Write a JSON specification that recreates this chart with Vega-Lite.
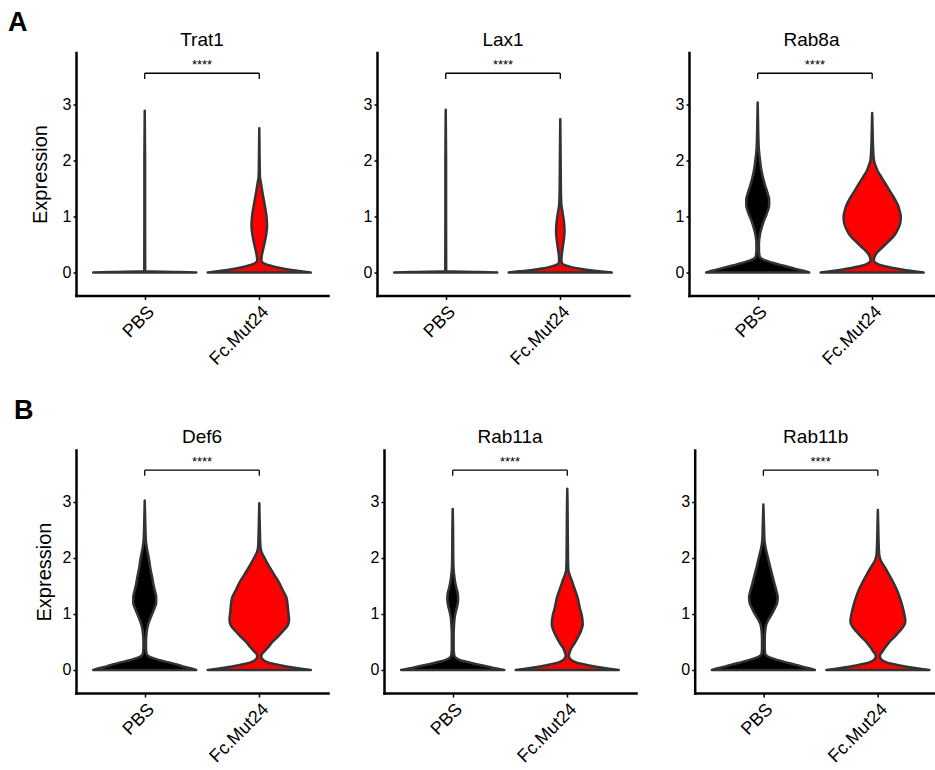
{
  "$schema": "https://vega.github.io/schema/vega-lite/v6.json",
  "padding": {"left": 8, "top": 8.5, "right": 0, "bottom": 0},
  "background": "white",
  "datasets": {
    "violins": [
      {"gene":"Trat1","group":"PBS","expr":0,"dens":0.45},
      {"gene":"Trat1","group":"PBS","expr":0.01,"dens":0.3},
      {"gene":"Trat1","group":"PBS","expr":0.02,"dens":0.01},
      {"gene":"Trat1","group":"PBS","expr":0.04,"dens":0.004},
      {"gene":"Trat1","group":"PBS","expr":1.0,"dens":0.003},
      {"gene":"Trat1","group":"PBS","expr":2.0,"dens":0.003},
      {"gene":"Trat1","group":"PBS","expr":2.88,"dens":0},
      {"gene":"Trat1","group":"Fc.Mut24","expr":0,"dens":0.45},
      {"gene":"Trat1","group":"Fc.Mut24","expr":0.02,"dens":0.38},
      {"gene":"Trat1","group":"Fc.Mut24","expr":0.04,"dens":0.30},
      {"gene":"Trat1","group":"Fc.Mut24","expr":0.06,"dens":0.24},
      {"gene":"Trat1","group":"Fc.Mut24","expr":0.09,"dens":0.16},
      {"gene":"Trat1","group":"Fc.Mut24","expr":0.12,"dens":0.10},
      {"gene":"Trat1","group":"Fc.Mut24","expr":0.15,"dens":0.055},
      {"gene":"Trat1","group":"Fc.Mut24","expr":0.18,"dens":0.028},
      {"gene":"Trat1","group":"Fc.Mut24","expr":0.22,"dens":0.018},
      {"gene":"Trat1","group":"Fc.Mut24","expr":0.3,"dens":0.022},
      {"gene":"Trat1","group":"Fc.Mut24","expr":0.45,"dens":0.038},
      {"gene":"Trat1","group":"Fc.Mut24","expr":0.65,"dens":0.058},
      {"gene":"Trat1","group":"Fc.Mut24","expr":0.83,"dens":0.068},
      {"gene":"Trat1","group":"Fc.Mut24","expr":1.0,"dens":0.063},
      {"gene":"Trat1","group":"Fc.Mut24","expr":1.2,"dens":0.048},
      {"gene":"Trat1","group":"Fc.Mut24","expr":1.4,"dens":0.03},
      {"gene":"Trat1","group":"Fc.Mut24","expr":1.6,"dens":0.014},
      {"gene":"Trat1","group":"Fc.Mut24","expr":1.7,"dens":0.006},
      {"gene":"Trat1","group":"Fc.Mut24","expr":2.0,"dens":0.003},
      {"gene":"Trat1","group":"Fc.Mut24","expr":2.57,"dens":0},

      {"gene":"Lax1","group":"PBS","expr":0,"dens":0.45},
      {"gene":"Lax1","group":"PBS","expr":0.01,"dens":0.3},
      {"gene":"Lax1","group":"PBS","expr":0.02,"dens":0.01},
      {"gene":"Lax1","group":"PBS","expr":0.04,"dens":0.004},
      {"gene":"Lax1","group":"PBS","expr":1.0,"dens":0.003},
      {"gene":"Lax1","group":"PBS","expr":2.0,"dens":0.003},
      {"gene":"Lax1","group":"PBS","expr":2.9,"dens":0},
      {"gene":"Lax1","group":"Fc.Mut24","expr":0,"dens":0.45},
      {"gene":"Lax1","group":"Fc.Mut24","expr":0.02,"dens":0.36},
      {"gene":"Lax1","group":"Fc.Mut24","expr":0.04,"dens":0.26},
      {"gene":"Lax1","group":"Fc.Mut24","expr":0.07,"dens":0.16},
      {"gene":"Lax1","group":"Fc.Mut24","expr":0.1,"dens":0.09},
      {"gene":"Lax1","group":"Fc.Mut24","expr":0.13,"dens":0.04},
      {"gene":"Lax1","group":"Fc.Mut24","expr":0.16,"dens":0.015},
      {"gene":"Lax1","group":"Fc.Mut24","expr":0.22,"dens":0.01},
      {"gene":"Lax1","group":"Fc.Mut24","expr":0.3,"dens":0.012},
      {"gene":"Lax1","group":"Fc.Mut24","expr":0.45,"dens":0.022},
      {"gene":"Lax1","group":"Fc.Mut24","expr":0.6,"dens":0.032},
      {"gene":"Lax1","group":"Fc.Mut24","expr":0.74,"dens":0.037},
      {"gene":"Lax1","group":"Fc.Mut24","expr":0.9,"dens":0.032},
      {"gene":"Lax1","group":"Fc.Mut24","expr":1.05,"dens":0.022},
      {"gene":"Lax1","group":"Fc.Mut24","expr":1.2,"dens":0.01},
      {"gene":"Lax1","group":"Fc.Mut24","expr":1.4,"dens":0.006},
      {"gene":"Lax1","group":"Fc.Mut24","expr":1.8,"dens":0.004},
      {"gene":"Lax1","group":"Fc.Mut24","expr":2.3,"dens":0.002},
      {"gene":"Lax1","group":"Fc.Mut24","expr":2.73,"dens":0},

      {"gene":"Rab8a","group":"PBS","expr":0,"dens":0.45},
      {"gene":"Rab8a","group":"PBS","expr":0.03,"dens":0.40},
      {"gene":"Rab8a","group":"PBS","expr":0.06,"dens":0.34},
      {"gene":"Rab8a","group":"PBS","expr":0.1,"dens":0.27},
      {"gene":"Rab8a","group":"PBS","expr":0.14,"dens":0.19},
      {"gene":"Rab8a","group":"PBS","expr":0.18,"dens":0.12},
      {"gene":"Rab8a","group":"PBS","expr":0.22,"dens":0.06},
      {"gene":"Rab8a","group":"PBS","expr":0.26,"dens":0.025},
      {"gene":"Rab8a","group":"PBS","expr":0.3,"dens":0.015},
      {"gene":"Rab8a","group":"PBS","expr":0.4,"dens":0.011},
      {"gene":"Rab8a","group":"PBS","expr":0.5,"dens":0.011},
      {"gene":"Rab8a","group":"PBS","expr":0.6,"dens":0.014},
      {"gene":"Rab8a","group":"PBS","expr":0.7,"dens":0.022},
      {"gene":"Rab8a","group":"PBS","expr":0.8,"dens":0.035},
      {"gene":"Rab8a","group":"PBS","expr":0.9,"dens":0.05},
      {"gene":"Rab8a","group":"PBS","expr":1.0,"dens":0.07},
      {"gene":"Rab8a","group":"PBS","expr":1.1,"dens":0.088},
      {"gene":"Rab8a","group":"PBS","expr":1.2,"dens":0.10},
      {"gene":"Rab8a","group":"PBS","expr":1.3,"dens":0.10},
      {"gene":"Rab8a","group":"PBS","expr":1.4,"dens":0.088},
      {"gene":"Rab8a","group":"PBS","expr":1.55,"dens":0.065},
      {"gene":"Rab8a","group":"PBS","expr":1.7,"dens":0.045},
      {"gene":"Rab8a","group":"PBS","expr":1.85,"dens":0.03},
      {"gene":"Rab8a","group":"PBS","expr":2.0,"dens":0.02},
      {"gene":"Rab8a","group":"PBS","expr":2.2,"dens":0.01},
      {"gene":"Rab8a","group":"PBS","expr":2.4,"dens":0.006},
      {"gene":"Rab8a","group":"PBS","expr":2.7,"dens":0.003},
      {"gene":"Rab8a","group":"PBS","expr":3.03,"dens":0},
      {"gene":"Rab8a","group":"Fc.Mut24","expr":0,"dens":0.45},
      {"gene":"Rab8a","group":"Fc.Mut24","expr":0.02,"dens":0.38},
      {"gene":"Rab8a","group":"Fc.Mut24","expr":0.05,"dens":0.27},
      {"gene":"Rab8a","group":"Fc.Mut24","expr":0.08,"dens":0.18},
      {"gene":"Rab8a","group":"Fc.Mut24","expr":0.11,"dens":0.11},
      {"gene":"Rab8a","group":"Fc.Mut24","expr":0.14,"dens":0.06},
      {"gene":"Rab8a","group":"Fc.Mut24","expr":0.18,"dens":0.025},
      {"gene":"Rab8a","group":"Fc.Mut24","expr":0.22,"dens":0.015},
      {"gene":"Rab8a","group":"Fc.Mut24","expr":0.26,"dens":0.017},
      {"gene":"Rab8a","group":"Fc.Mut24","expr":0.3,"dens":0.025},
      {"gene":"Rab8a","group":"Fc.Mut24","expr":0.36,"dens":0.045},
      {"gene":"Rab8a","group":"Fc.Mut24","expr":0.45,"dens":0.09},
      {"gene":"Rab8a","group":"Fc.Mut24","expr":0.53,"dens":0.13},
      {"gene":"Rab8a","group":"Fc.Mut24","expr":0.65,"dens":0.19},
      {"gene":"Rab8a","group":"Fc.Mut24","expr":0.77,"dens":0.225},
      {"gene":"Rab8a","group":"Fc.Mut24","expr":0.88,"dens":0.245},
      {"gene":"Rab8a","group":"Fc.Mut24","expr":0.99,"dens":0.25},
      {"gene":"Rab8a","group":"Fc.Mut24","expr":1.1,"dens":0.24},
      {"gene":"Rab8a","group":"Fc.Mut24","expr":1.2,"dens":0.225},
      {"gene":"Rab8a","group":"Fc.Mut24","expr":1.3,"dens":0.2},
      {"gene":"Rab8a","group":"Fc.Mut24","expr":1.4,"dens":0.17},
      {"gene":"Rab8a","group":"Fc.Mut24","expr":1.5,"dens":0.14},
      {"gene":"Rab8a","group":"Fc.Mut24","expr":1.6,"dens":0.11},
      {"gene":"Rab8a","group":"Fc.Mut24","expr":1.7,"dens":0.08},
      {"gene":"Rab8a","group":"Fc.Mut24","expr":1.8,"dens":0.05},
      {"gene":"Rab8a","group":"Fc.Mut24","expr":1.9,"dens":0.03},
      {"gene":"Rab8a","group":"Fc.Mut24","expr":2.0,"dens":0.015},
      {"gene":"Rab8a","group":"Fc.Mut24","expr":2.2,"dens":0.008},
      {"gene":"Rab8a","group":"Fc.Mut24","expr":2.5,"dens":0.004},
      {"gene":"Rab8a","group":"Fc.Mut24","expr":2.84,"dens":0},

      {"gene":"Def6","group":"PBS","expr":0,"dens":0.45},
      {"gene":"Def6","group":"PBS","expr":0.03,"dens":0.40},
      {"gene":"Def6","group":"PBS","expr":0.06,"dens":0.34},
      {"gene":"Def6","group":"PBS","expr":0.1,"dens":0.28},
      {"gene":"Def6","group":"PBS","expr":0.14,"dens":0.2},
      {"gene":"Def6","group":"PBS","expr":0.18,"dens":0.12},
      {"gene":"Def6","group":"PBS","expr":0.22,"dens":0.06},
      {"gene":"Def6","group":"PBS","expr":0.26,"dens":0.025},
      {"gene":"Def6","group":"PBS","expr":0.3,"dens":0.015},
      {"gene":"Def6","group":"PBS","expr":0.4,"dens":0.011},
      {"gene":"Def6","group":"PBS","expr":0.5,"dens":0.011},
      {"gene":"Def6","group":"PBS","expr":0.6,"dens":0.013},
      {"gene":"Def6","group":"PBS","expr":0.7,"dens":0.018},
      {"gene":"Def6","group":"PBS","expr":0.8,"dens":0.028},
      {"gene":"Def6","group":"PBS","expr":0.9,"dens":0.045},
      {"gene":"Def6","group":"PBS","expr":1.0,"dens":0.065},
      {"gene":"Def6","group":"PBS","expr":1.1,"dens":0.085},
      {"gene":"Def6","group":"PBS","expr":1.2,"dens":0.1},
      {"gene":"Def6","group":"PBS","expr":1.3,"dens":0.1},
      {"gene":"Def6","group":"PBS","expr":1.4,"dens":0.09},
      {"gene":"Def6","group":"PBS","expr":1.5,"dens":0.078},
      {"gene":"Def6","group":"PBS","expr":1.65,"dens":0.065},
      {"gene":"Def6","group":"PBS","expr":1.8,"dens":0.05},
      {"gene":"Def6","group":"PBS","expr":2.0,"dens":0.035},
      {"gene":"Def6","group":"PBS","expr":2.15,"dens":0.02},
      {"gene":"Def6","group":"PBS","expr":2.3,"dens":0.01},
      {"gene":"Def6","group":"PBS","expr":2.5,"dens":0.006},
      {"gene":"Def6","group":"PBS","expr":2.75,"dens":0.003},
      {"gene":"Def6","group":"PBS","expr":3.02,"dens":0},
      {"gene":"Def6","group":"Fc.Mut24","expr":0,"dens":0.45},
      {"gene":"Def6","group":"Fc.Mut24","expr":0.02,"dens":0.38},
      {"gene":"Def6","group":"Fc.Mut24","expr":0.05,"dens":0.28},
      {"gene":"Def6","group":"Fc.Mut24","expr":0.08,"dens":0.19},
      {"gene":"Def6","group":"Fc.Mut24","expr":0.11,"dens":0.12},
      {"gene":"Def6","group":"Fc.Mut24","expr":0.15,"dens":0.06},
      {"gene":"Def6","group":"Fc.Mut24","expr":0.19,"dens":0.03},
      {"gene":"Def6","group":"Fc.Mut24","expr":0.23,"dens":0.018},
      {"gene":"Def6","group":"Fc.Mut24","expr":0.27,"dens":0.02},
      {"gene":"Def6","group":"Fc.Mut24","expr":0.32,"dens":0.04},
      {"gene":"Def6","group":"Fc.Mut24","expr":0.4,"dens":0.075},
      {"gene":"Def6","group":"Fc.Mut24","expr":0.5,"dens":0.115},
      {"gene":"Def6","group":"Fc.Mut24","expr":0.6,"dens":0.165},
      {"gene":"Def6","group":"Fc.Mut24","expr":0.7,"dens":0.21},
      {"gene":"Def6","group":"Fc.Mut24","expr":0.8,"dens":0.25},
      {"gene":"Def6","group":"Fc.Mut24","expr":0.9,"dens":0.26},
      {"gene":"Def6","group":"Fc.Mut24","expr":1.0,"dens":0.255},
      {"gene":"Def6","group":"Fc.Mut24","expr":1.1,"dens":0.25},
      {"gene":"Def6","group":"Fc.Mut24","expr":1.2,"dens":0.245},
      {"gene":"Def6","group":"Fc.Mut24","expr":1.3,"dens":0.235},
      {"gene":"Def6","group":"Fc.Mut24","expr":1.4,"dens":0.21},
      {"gene":"Def6","group":"Fc.Mut24","expr":1.55,"dens":0.175},
      {"gene":"Def6","group":"Fc.Mut24","expr":1.7,"dens":0.13},
      {"gene":"Def6","group":"Fc.Mut24","expr":1.85,"dens":0.085},
      {"gene":"Def6","group":"Fc.Mut24","expr":2.0,"dens":0.045},
      {"gene":"Def6","group":"Fc.Mut24","expr":2.1,"dens":0.02},
      {"gene":"Def6","group":"Fc.Mut24","expr":2.2,"dens":0.01},
      {"gene":"Def6","group":"Fc.Mut24","expr":2.5,"dens":0.005},
      {"gene":"Def6","group":"Fc.Mut24","expr":2.97,"dens":0},

      {"gene":"Rab11a","group":"PBS","expr":0,"dens":0.45},
      {"gene":"Rab11a","group":"PBS","expr":0.03,"dens":0.37},
      {"gene":"Rab11a","group":"PBS","expr":0.06,"dens":0.31},
      {"gene":"Rab11a","group":"PBS","expr":0.09,"dens":0.24},
      {"gene":"Rab11a","group":"PBS","expr":0.12,"dens":0.17},
      {"gene":"Rab11a","group":"PBS","expr":0.15,"dens":0.11},
      {"gene":"Rab11a","group":"PBS","expr":0.18,"dens":0.06},
      {"gene":"Rab11a","group":"PBS","expr":0.22,"dens":0.025},
      {"gene":"Rab11a","group":"PBS","expr":0.27,"dens":0.012},
      {"gene":"Rab11a","group":"PBS","expr":0.4,"dens":0.008},
      {"gene":"Rab11a","group":"PBS","expr":0.6,"dens":0.008},
      {"gene":"Rab11a","group":"PBS","expr":0.8,"dens":0.011},
      {"gene":"Rab11a","group":"PBS","expr":0.95,"dens":0.018},
      {"gene":"Rab11a","group":"PBS","expr":1.05,"dens":0.028},
      {"gene":"Rab11a","group":"PBS","expr":1.15,"dens":0.04},
      {"gene":"Rab11a","group":"PBS","expr":1.25,"dens":0.047},
      {"gene":"Rab11a","group":"PBS","expr":1.35,"dens":0.045},
      {"gene":"Rab11a","group":"PBS","expr":1.45,"dens":0.033},
      {"gene":"Rab11a","group":"PBS","expr":1.55,"dens":0.022},
      {"gene":"Rab11a","group":"PBS","expr":1.7,"dens":0.012},
      {"gene":"Rab11a","group":"PBS","expr":1.85,"dens":0.006},
      {"gene":"Rab11a","group":"PBS","expr":2.2,"dens":0.004},
      {"gene":"Rab11a","group":"PBS","expr":2.5,"dens":0.003},
      {"gene":"Rab11a","group":"PBS","expr":2.87,"dens":0},
      {"gene":"Rab11a","group":"Fc.Mut24","expr":0,"dens":0.45},
      {"gene":"Rab11a","group":"Fc.Mut24","expr":0.02,"dens":0.38},
      {"gene":"Rab11a","group":"Fc.Mut24","expr":0.05,"dens":0.28},
      {"gene":"Rab11a","group":"Fc.Mut24","expr":0.08,"dens":0.19},
      {"gene":"Rab11a","group":"Fc.Mut24","expr":0.11,"dens":0.12},
      {"gene":"Rab11a","group":"Fc.Mut24","expr":0.15,"dens":0.06},
      {"gene":"Rab11a","group":"Fc.Mut24","expr":0.19,"dens":0.03},
      {"gene":"Rab11a","group":"Fc.Mut24","expr":0.23,"dens":0.016},
      {"gene":"Rab11a","group":"Fc.Mut24","expr":0.27,"dens":0.015},
      {"gene":"Rab11a","group":"Fc.Mut24","expr":0.32,"dens":0.022},
      {"gene":"Rab11a","group":"Fc.Mut24","expr":0.39,"dens":0.035},
      {"gene":"Rab11a","group":"Fc.Mut24","expr":0.48,"dens":0.065},
      {"gene":"Rab11a","group":"Fc.Mut24","expr":0.57,"dens":0.09},
      {"gene":"Rab11a","group":"Fc.Mut24","expr":0.7,"dens":0.12},
      {"gene":"Rab11a","group":"Fc.Mut24","expr":0.81,"dens":0.135},
      {"gene":"Rab11a","group":"Fc.Mut24","expr":0.9,"dens":0.132},
      {"gene":"Rab11a","group":"Fc.Mut24","expr":0.99,"dens":0.125},
      {"gene":"Rab11a","group":"Fc.Mut24","expr":1.1,"dens":0.11},
      {"gene":"Rab11a","group":"Fc.Mut24","expr":1.2,"dens":0.1},
      {"gene":"Rab11a","group":"Fc.Mut24","expr":1.29,"dens":0.09},
      {"gene":"Rab11a","group":"Fc.Mut24","expr":1.4,"dens":0.072},
      {"gene":"Rab11a","group":"Fc.Mut24","expr":1.5,"dens":0.055},
      {"gene":"Rab11a","group":"Fc.Mut24","expr":1.59,"dens":0.04},
      {"gene":"Rab11a","group":"Fc.Mut24","expr":1.7,"dens":0.02},
      {"gene":"Rab11a","group":"Fc.Mut24","expr":1.77,"dens":0.01},
      {"gene":"Rab11a","group":"Fc.Mut24","expr":2.0,"dens":0.006},
      {"gene":"Rab11a","group":"Fc.Mut24","expr":2.5,"dens":0.004},
      {"gene":"Rab11a","group":"Fc.Mut24","expr":3.0,"dens":0.002},
      {"gene":"Rab11a","group":"Fc.Mut24","expr":3.23,"dens":0},

      {"gene":"Rab11b","group":"PBS","expr":0,"dens":0.45},
      {"gene":"Rab11b","group":"PBS","expr":0.03,"dens":0.40},
      {"gene":"Rab11b","group":"PBS","expr":0.06,"dens":0.34},
      {"gene":"Rab11b","group":"PBS","expr":0.1,"dens":0.27},
      {"gene":"Rab11b","group":"PBS","expr":0.14,"dens":0.19},
      {"gene":"Rab11b","group":"PBS","expr":0.18,"dens":0.12},
      {"gene":"Rab11b","group":"PBS","expr":0.22,"dens":0.06},
      {"gene":"Rab11b","group":"PBS","expr":0.26,"dens":0.025},
      {"gene":"Rab11b","group":"PBS","expr":0.3,"dens":0.015},
      {"gene":"Rab11b","group":"PBS","expr":0.4,"dens":0.012},
      {"gene":"Rab11b","group":"PBS","expr":0.55,"dens":0.012},
      {"gene":"Rab11b","group":"PBS","expr":0.7,"dens":0.016},
      {"gene":"Rab11b","group":"PBS","expr":0.81,"dens":0.025},
      {"gene":"Rab11b","group":"PBS","expr":0.9,"dens":0.045},
      {"gene":"Rab11b","group":"PBS","expr":1.0,"dens":0.075},
      {"gene":"Rab11b","group":"PBS","expr":1.1,"dens":0.1},
      {"gene":"Rab11b","group":"PBS","expr":1.2,"dens":0.12},
      {"gene":"Rab11b","group":"PBS","expr":1.3,"dens":0.125},
      {"gene":"Rab11b","group":"PBS","expr":1.4,"dens":0.115},
      {"gene":"Rab11b","group":"PBS","expr":1.55,"dens":0.095},
      {"gene":"Rab11b","group":"PBS","expr":1.71,"dens":0.075},
      {"gene":"Rab11b","group":"PBS","expr":1.85,"dens":0.057},
      {"gene":"Rab11b","group":"PBS","expr":2.0,"dens":0.04},
      {"gene":"Rab11b","group":"PBS","expr":2.15,"dens":0.022},
      {"gene":"Rab11b","group":"PBS","expr":2.3,"dens":0.01},
      {"gene":"Rab11b","group":"PBS","expr":2.6,"dens":0.005},
      {"gene":"Rab11b","group":"PBS","expr":2.95,"dens":0},
      {"gene":"Rab11b","group":"Fc.Mut24","expr":0,"dens":0.45},
      {"gene":"Rab11b","group":"Fc.Mut24","expr":0.02,"dens":0.38},
      {"gene":"Rab11b","group":"Fc.Mut24","expr":0.05,"dens":0.28},
      {"gene":"Rab11b","group":"Fc.Mut24","expr":0.08,"dens":0.19},
      {"gene":"Rab11b","group":"Fc.Mut24","expr":0.11,"dens":0.12},
      {"gene":"Rab11b","group":"Fc.Mut24","expr":0.15,"dens":0.06},
      {"gene":"Rab11b","group":"Fc.Mut24","expr":0.19,"dens":0.03},
      {"gene":"Rab11b","group":"Fc.Mut24","expr":0.23,"dens":0.018},
      {"gene":"Rab11b","group":"Fc.Mut24","expr":0.27,"dens":0.02},
      {"gene":"Rab11b","group":"Fc.Mut24","expr":0.33,"dens":0.04},
      {"gene":"Rab11b","group":"Fc.Mut24","expr":0.42,"dens":0.07},
      {"gene":"Rab11b","group":"Fc.Mut24","expr":0.51,"dens":0.105},
      {"gene":"Rab11b","group":"Fc.Mut24","expr":0.6,"dens":0.15},
      {"gene":"Rab11b","group":"Fc.Mut24","expr":0.69,"dens":0.19},
      {"gene":"Rab11b","group":"Fc.Mut24","expr":0.78,"dens":0.225},
      {"gene":"Rab11b","group":"Fc.Mut24","expr":0.87,"dens":0.24},
      {"gene":"Rab11b","group":"Fc.Mut24","expr":0.95,"dens":0.235},
      {"gene":"Rab11b","group":"Fc.Mut24","expr":1.05,"dens":0.225},
      {"gene":"Rab11b","group":"Fc.Mut24","expr":1.17,"dens":0.21},
      {"gene":"Rab11b","group":"Fc.Mut24","expr":1.3,"dens":0.19},
      {"gene":"Rab11b","group":"Fc.Mut24","expr":1.41,"dens":0.17},
      {"gene":"Rab11b","group":"Fc.Mut24","expr":1.56,"dens":0.135},
      {"gene":"Rab11b","group":"Fc.Mut24","expr":1.71,"dens":0.095},
      {"gene":"Rab11b","group":"Fc.Mut24","expr":1.85,"dens":0.055},
      {"gene":"Rab11b","group":"Fc.Mut24","expr":1.95,"dens":0.025},
      {"gene":"Rab11b","group":"Fc.Mut24","expr":2.05,"dens":0.012},
      {"gene":"Rab11b","group":"Fc.Mut24","expr":2.3,"dens":0.006},
      {"gene":"Rab11b","group":"Fc.Mut24","expr":2.6,"dens":0.003},
      {"gene":"Rab11b","group":"Fc.Mut24","expr":2.85,"dens":0}
    ],
    "tests": [
      {"gene":"Trat1","group1":"PBS","group2":"Fc.Mut24","y":3.55,"label":"****"},
      {"gene":"Lax1","group1":"PBS","group2":"Fc.Mut24","y":3.55,"label":"****"},
      {"gene":"Rab8a","group1":"PBS","group2":"Fc.Mut24","y":3.55,"label":"****"},
      {"gene":"Def6","group1":"PBS","group2":"Fc.Mut24","y":3.56,"label":"****"},
      {"gene":"Rab11a","group1":"PBS","group2":"Fc.Mut24","y":3.56,"label":"****"},
      {"gene":"Rab11b","group1":"PBS","group2":"Fc.Mut24","y":3.56,"label":"****"}
    ]
  },
  "concat": [
    {
      "title": {"text": "A", "anchor": "start", "fontSize": 27, "fontWeight": "bold", "offset": -6, "dx": -22},
      "spacing": 35,
      "hconcat": [
        {
          "width": 252, "height": 243,
          "title": "Trat1",
          "layer": [
            {
              "data": {"name": "violins"},
              "transform": [{"filter": "datum.gene == 'Trat1'"}, {"calculate": "datum.group == 'PBS' ? 0 : 1", "as": "pos"}, {"calculate": "datum.pos - datum.dens", "as": "lo"}, {"calculate": "datum.pos + datum.dens", "as": "hi"}],
              "mark": {"type": "area", "orient": "horizontal", "interpolate": "monotone", "stroke": "#333333", "strokeWidth": 2.5, "strokeJoin": "round"},
              "encoding": {
                "y": {"field": "expr", "type": "quantitative", "scale": {"domain": [-0.41, 3.92], "nice": false, "zero": false}, "axis": {"values": [0, 1, 2, 3], "format": "d", "labelFontSize": 16, "title": "Expression", "titleFontSize": 20, "titlePadding": 12}},
                "x": {"field": "lo", "type": "quantitative", "scale": {"domain": [-0.6, 1.6], "nice": false, "zero": false}, "axis": {"values": [0, 1], "labelExpr": "datum.value == 0 ? 'PBS' : 'Fc.Mut24'", "labelFontSize": 18, "labelAngle": -45, "title": null}},
                "x2": {"field": "hi"},
                "fill": {"field": "group", "type": "nominal", "scale": {"domain": ["PBS", "Fc.Mut24"], "range": ["#000000", "#FF0000"]}, "legend": null}
              }
            },
            {
              "data": {"name": "tests"},
              "transform": [{"filter": "datum.gene == 'Trat1'"}, {"calculate": "datum.group1 == 'PBS' ? 0 : 1", "as": "p1"}, {"calculate": "datum.group2 == 'PBS' ? 0 : 1", "as": "p2"}, {"calculate": "datum.y - 0.1", "as": "tip"}, {"calculate": "(datum.p1 + datum.p2) / 2", "as": "mid"}],
              "layer": [
                {"mark": {"type": "rule", "color": "#000000", "strokeWidth": 1.3}, "encoding": {"x": {"field": "p1", "type": "quantitative"}, "x2": {"field": "p2"}, "y": {"field": "y", "type": "quantitative"}}},
                {"mark": {"type": "rule", "color": "#000000", "strokeWidth": 1.3}, "encoding": {"x": {"field": "p1", "type": "quantitative"}, "y": {"field": "tip", "type": "quantitative"}, "y2": {"field": "y"}}},
                {"mark": {"type": "rule", "color": "#000000", "strokeWidth": 1.3}, "encoding": {"x": {"field": "p2", "type": "quantitative"}, "y": {"field": "tip", "type": "quantitative"}, "y2": {"field": "y"}}},
                {"mark": {"type": "text", "baseline": "bottom", "dy": -1, "fontSize": 13, "color": "#000000"}, "encoding": {"x": {"field": "mid", "type": "quantitative"}, "y": {"field": "y", "type": "quantitative"}, "text": {"field": "label"}}}
              ]
            }
          ]
        },
        {
          "spacing": 46,
          "hconcat": [
            {
              "width": 252, "height": 243,
              "title": "Lax1",
              "layer": [
                {
                  "data": {"name": "violins"},
                  "transform": [{"filter": "datum.gene == 'Lax1'"}, {"calculate": "datum.group == 'PBS' ? 0 : 1", "as": "pos"}, {"calculate": "datum.pos - datum.dens", "as": "lo"}, {"calculate": "datum.pos + datum.dens", "as": "hi"}],
                  "mark": {"type": "area", "orient": "horizontal", "interpolate": "monotone", "stroke": "#333333", "strokeWidth": 2.5, "strokeJoin": "round"},
                  "encoding": {
                    "y": {"field": "expr", "type": "quantitative", "scale": {"domain": [-0.41, 3.92], "nice": false, "zero": false}, "axis": {"values": [0, 1, 2, 3], "format": "d", "labelFontSize": 16, "title": null}},
                    "x": {"field": "lo", "type": "quantitative", "scale": {"domain": [-0.6, 1.6], "nice": false, "zero": false}, "axis": {"values": [0, 1], "labelExpr": "datum.value == 0 ? 'PBS' : 'Fc.Mut24'", "labelFontSize": 18, "labelAngle": -45, "title": null}},
                    "x2": {"field": "hi"},
                    "fill": {"field": "group", "type": "nominal", "scale": {"domain": ["PBS", "Fc.Mut24"], "range": ["#000000", "#FF0000"]}, "legend": null}
                  }
                },
                {
                  "data": {"name": "tests"},
                  "transform": [{"filter": "datum.gene == 'Lax1'"}, {"calculate": "datum.group1 == 'PBS' ? 0 : 1", "as": "p1"}, {"calculate": "datum.group2 == 'PBS' ? 0 : 1", "as": "p2"}, {"calculate": "datum.y - 0.1", "as": "tip"}, {"calculate": "(datum.p1 + datum.p2) / 2", "as": "mid"}],
                  "layer": [
                    {"mark": {"type": "rule", "color": "#000000", "strokeWidth": 1.3}, "encoding": {"x": {"field": "p1", "type": "quantitative"}, "x2": {"field": "p2"}, "y": {"field": "y", "type": "quantitative"}}},
                    {"mark": {"type": "rule", "color": "#000000", "strokeWidth": 1.3}, "encoding": {"x": {"field": "p1", "type": "quantitative"}, "y": {"field": "tip", "type": "quantitative"}, "y2": {"field": "y"}}},
                    {"mark": {"type": "rule", "color": "#000000", "strokeWidth": 1.3}, "encoding": {"x": {"field": "p2", "type": "quantitative"}, "y": {"field": "tip", "type": "quantitative"}, "y2": {"field": "y"}}},
                    {"mark": {"type": "text", "baseline": "bottom", "dy": -1, "fontSize": 13, "color": "#000000"}, "encoding": {"x": {"field": "mid", "type": "quantitative"}, "y": {"field": "y", "type": "quantitative"}, "text": {"field": "label"}}}
                  ]
                }
              ]
            },
            {
              "width": 245, "height": 243,
              "title": "Rab8a",
              "layer": [
                {
                  "data": {"name": "violins"},
                  "transform": [{"filter": "datum.gene == 'Rab8a'"}, {"calculate": "datum.group == 'PBS' ? 0 : 1", "as": "pos"}, {"calculate": "datum.pos - datum.dens", "as": "lo"}, {"calculate": "datum.pos + datum.dens", "as": "hi"}],
                  "mark": {"type": "area", "orient": "horizontal", "interpolate": "monotone", "stroke": "#333333", "strokeWidth": 2.5, "strokeJoin": "round"},
                  "encoding": {
                    "y": {"field": "expr", "type": "quantitative", "scale": {"domain": [-0.41, 3.92], "nice": false, "zero": false}, "axis": {"values": [0, 1, 2, 3], "format": "d", "labelFontSize": 16, "title": null}},
                    "x": {"field": "lo", "type": "quantitative", "scale": {"domain": [-0.6, 1.54], "nice": false, "zero": false}, "axis": {"values": [0, 1], "labelExpr": "datum.value == 0 ? 'PBS' : 'Fc.Mut24'", "labelFontSize": 18, "labelAngle": -45, "title": null}},
                    "x2": {"field": "hi"},
                    "fill": {"field": "group", "type": "nominal", "scale": {"domain": ["PBS", "Fc.Mut24"], "range": ["#000000", "#FF0000"]}, "legend": null}
                  }
                },
                {
                  "data": {"name": "tests"},
                  "transform": [{"filter": "datum.gene == 'Rab8a'"}, {"calculate": "datum.group1 == 'PBS' ? 0 : 1", "as": "p1"}, {"calculate": "datum.group2 == 'PBS' ? 0 : 1", "as": "p2"}, {"calculate": "datum.y - 0.1", "as": "tip"}, {"calculate": "(datum.p1 + datum.p2) / 2", "as": "mid"}],
                  "layer": [
                    {"mark": {"type": "rule", "color": "#000000", "strokeWidth": 1.3}, "encoding": {"x": {"field": "p1", "type": "quantitative"}, "x2": {"field": "p2"}, "y": {"field": "y", "type": "quantitative"}}},
                    {"mark": {"type": "rule", "color": "#000000", "strokeWidth": 1.3}, "encoding": {"x": {"field": "p1", "type": "quantitative"}, "y": {"field": "tip", "type": "quantitative"}, "y2": {"field": "y"}}},
                    {"mark": {"type": "rule", "color": "#000000", "strokeWidth": 1.3}, "encoding": {"x": {"field": "p2", "type": "quantitative"}, "y": {"field": "tip", "type": "quantitative"}, "y2": {"field": "y"}}},
                    {"mark": {"type": "text", "baseline": "bottom", "dy": -1, "fontSize": 13, "color": "#000000"}, "encoding": {"x": {"field": "mid", "type": "quantitative"}, "y": {"field": "y", "type": "quantitative"}, "text": {"field": "label"}}}
                  ]
                }
              ]
            }
          ]
        }
      ]
    },
    {
      "title": {"text": "B", "anchor": "start", "fontSize": 27, "fontWeight": "bold", "offset": 3, "dx": -20},
      "spacing": 42,
      "hconcat": [
        {
          "width": 252, "height": 243,
          "title": "Def6",
          "layer": [
            {
              "data": {"name": "violins"},
              "transform": [{"filter": "datum.gene == 'Def6'"}, {"calculate": "datum.group == 'PBS' ? 0 : 1", "as": "pos"}, {"calculate": "datum.pos - datum.dens", "as": "lo"}, {"calculate": "datum.pos + datum.dens", "as": "hi"}],
              "mark": {"type": "area", "orient": "horizontal", "interpolate": "monotone", "stroke": "#333333", "strokeWidth": 2.5, "strokeJoin": "round"},
              "encoding": {
                "y": {"field": "expr", "type": "quantitative", "scale": {"domain": [-0.41, 3.92], "nice": false, "zero": false}, "axis": {"values": [0, 1, 2, 3], "format": "d", "labelFontSize": 16, "title": "Expression", "titleFontSize": 20, "titlePadding": 8}},
                "x": {"field": "lo", "type": "quantitative", "scale": {"domain": [-0.6, 1.6], "nice": false, "zero": false}, "axis": {"values": [0, 1], "labelExpr": "datum.value == 0 ? 'PBS' : 'Fc.Mut24'", "labelFontSize": 18, "labelAngle": -45, "title": null}},
                "x2": {"field": "hi"},
                "fill": {"field": "group", "type": "nominal", "scale": {"domain": ["PBS", "Fc.Mut24"], "range": ["#000000", "#FF0000"]}, "legend": null}
              }
            },
            {
              "data": {"name": "tests"},
              "transform": [{"filter": "datum.gene == 'Def6'"}, {"calculate": "datum.group1 == 'PBS' ? 0 : 1", "as": "p1"}, {"calculate": "datum.group2 == 'PBS' ? 0 : 1", "as": "p2"}, {"calculate": "datum.y - 0.1", "as": "tip"}, {"calculate": "(datum.p1 + datum.p2) / 2", "as": "mid"}],
              "layer": [
                {"mark": {"type": "rule", "color": "#000000", "strokeWidth": 1.3}, "encoding": {"x": {"field": "p1", "type": "quantitative"}, "x2": {"field": "p2"}, "y": {"field": "y", "type": "quantitative"}}},
                {"mark": {"type": "rule", "color": "#000000", "strokeWidth": 1.3}, "encoding": {"x": {"field": "p1", "type": "quantitative"}, "y": {"field": "tip", "type": "quantitative"}, "y2": {"field": "y"}}},
                {"mark": {"type": "rule", "color": "#000000", "strokeWidth": 1.3}, "encoding": {"x": {"field": "p2", "type": "quantitative"}, "y": {"field": "tip", "type": "quantitative"}, "y2": {"field": "y"}}},
                {"mark": {"type": "text", "baseline": "bottom", "dy": -1, "fontSize": 13, "color": "#000000"}, "encoding": {"x": {"field": "mid", "type": "quantitative"}, "y": {"field": "y", "type": "quantitative"}, "text": {"field": "label"}}}
              ]
            }
          ]
        },
        {
          "spacing": 44.7,
          "hconcat": [
            {
              "width": 252, "height": 243,
              "title": "Rab11a",
              "layer": [
                {
                  "data": {"name": "violins"},
                  "transform": [{"filter": "datum.gene == 'Rab11a'"}, {"calculate": "datum.group == 'PBS' ? 0 : 1", "as": "pos"}, {"calculate": "datum.pos - datum.dens", "as": "lo"}, {"calculate": "datum.pos + datum.dens", "as": "hi"}],
                  "mark": {"type": "area", "orient": "horizontal", "interpolate": "monotone", "stroke": "#333333", "strokeWidth": 2.5, "strokeJoin": "round"},
                  "encoding": {
                    "y": {"field": "expr", "type": "quantitative", "scale": {"domain": [-0.41, 3.92], "nice": false, "zero": false}, "axis": {"values": [0, 1, 2, 3], "format": "d", "labelFontSize": 16, "title": null}},
                    "x": {"field": "lo", "type": "quantitative", "scale": {"domain": [-0.6, 1.6], "nice": false, "zero": false}, "axis": {"values": [0, 1], "labelExpr": "datum.value == 0 ? 'PBS' : 'Fc.Mut24'", "labelFontSize": 18, "labelAngle": -45, "title": null}},
                    "x2": {"field": "hi"},
                    "fill": {"field": "group", "type": "nominal", "scale": {"domain": ["PBS", "Fc.Mut24"], "range": ["#000000", "#FF0000"]}, "legend": null}
                  }
                },
                {
                  "data": {"name": "tests"},
                  "transform": [{"filter": "datum.gene == 'Rab11a'"}, {"calculate": "datum.group1 == 'PBS' ? 0 : 1", "as": "p1"}, {"calculate": "datum.group2 == 'PBS' ? 0 : 1", "as": "p2"}, {"calculate": "datum.y - 0.1", "as": "tip"}, {"calculate": "(datum.p1 + datum.p2) / 2", "as": "mid"}],
                  "layer": [
                    {"mark": {"type": "rule", "color": "#000000", "strokeWidth": 1.3}, "encoding": {"x": {"field": "p1", "type": "quantitative"}, "x2": {"field": "p2"}, "y": {"field": "y", "type": "quantitative"}}},
                    {"mark": {"type": "rule", "color": "#000000", "strokeWidth": 1.3}, "encoding": {"x": {"field": "p1", "type": "quantitative"}, "y": {"field": "tip", "type": "quantitative"}, "y2": {"field": "y"}}},
                    {"mark": {"type": "rule", "color": "#000000", "strokeWidth": 1.3}, "encoding": {"x": {"field": "p2", "type": "quantitative"}, "y": {"field": "tip", "type": "quantitative"}, "y2": {"field": "y"}}},
                    {"mark": {"type": "text", "baseline": "bottom", "dy": -1, "fontSize": 13, "color": "#000000"}, "encoding": {"x": {"field": "mid", "type": "quantitative"}, "y": {"field": "y", "type": "quantitative"}, "text": {"field": "label"}}}
                  ]
                }
              ]
            },
            {
              "width": 242, "height": 243,
              "title": "Rab11b",
              "layer": [
                {
                  "data": {"name": "violins"},
                  "transform": [{"filter": "datum.gene == 'Rab11b'"}, {"calculate": "datum.group == 'PBS' ? 0 : 1", "as": "pos"}, {"calculate": "datum.pos - datum.dens", "as": "lo"}, {"calculate": "datum.pos + datum.dens", "as": "hi"}],
                  "mark": {"type": "area", "orient": "horizontal", "interpolate": "monotone", "stroke": "#333333", "strokeWidth": 2.5, "strokeJoin": "round"},
                  "encoding": {
                    "y": {"field": "expr", "type": "quantitative", "scale": {"domain": [-0.41, 3.92], "nice": false, "zero": false}, "axis": {"values": [0, 1, 2, 3], "format": "d", "labelFontSize": 16, "title": null}},
                    "x": {"field": "lo", "type": "quantitative", "scale": {"domain": [-0.6, 1.514], "nice": false, "zero": false}, "axis": {"values": [0, 1], "labelExpr": "datum.value == 0 ? 'PBS' : 'Fc.Mut24'", "labelFontSize": 18, "labelAngle": -45, "title": null}},
                    "x2": {"field": "hi"},
                    "fill": {"field": "group", "type": "nominal", "scale": {"domain": ["PBS", "Fc.Mut24"], "range": ["#000000", "#FF0000"]}, "legend": null}
                  }
                },
                {
                  "data": {"name": "tests"},
                  "transform": [{"filter": "datum.gene == 'Rab11b'"}, {"calculate": "datum.group1 == 'PBS' ? 0 : 1", "as": "p1"}, {"calculate": "datum.group2 == 'PBS' ? 0 : 1", "as": "p2"}, {"calculate": "datum.y - 0.1", "as": "tip"}, {"calculate": "(datum.p1 + datum.p2) / 2", "as": "mid"}],
                  "layer": [
                    {"mark": {"type": "rule", "color": "#000000", "strokeWidth": 1.3}, "encoding": {"x": {"field": "p1", "type": "quantitative"}, "x2": {"field": "p2"}, "y": {"field": "y", "type": "quantitative"}}},
                    {"mark": {"type": "rule", "color": "#000000", "strokeWidth": 1.3}, "encoding": {"x": {"field": "p1", "type": "quantitative"}, "y": {"field": "tip", "type": "quantitative"}, "y2": {"field": "y"}}},
                    {"mark": {"type": "rule", "color": "#000000", "strokeWidth": 1.3}, "encoding": {"x": {"field": "p2", "type": "quantitative"}, "y": {"field": "tip", "type": "quantitative"}, "y2": {"field": "y"}}},
                    {"mark": {"type": "text", "baseline": "bottom", "dy": -1, "fontSize": 13, "color": "#000000"}, "encoding": {"x": {"field": "mid", "type": "quantitative"}, "y": {"field": "y", "type": "quantitative"}, "text": {"field": "label"}}}
                  ]
                }
              ]
            }
          ]
        }
      ]
    }
  ],
  "columns": 1,
  "align": "none",
  "spacing": 28.5,
  "config": {
    "font": "Liberation Sans",
    "view": {"stroke": null},
    "axis": {"grid": false, "domainColor": "#000000", "domainWidth": 2.5, "domainCap": "square", "tickColor": "#000000", "tickWidth": 1.5, "labelColor": "#000000", "titleColor": "#000000", "titleFontWeight": "normal", "labelFont": "Liberation Sans", "titleFont": "Liberation Sans"},
    "axisX": {"labelFontSize": 18, "labelAngle": -45, "labelAlign": "right", "labelBaseline": "top", "tickSize": 4, "labelPadding": 3},
    "axisY": {"labelFontSize": 16, "tickSize": 3, "labelPadding": 2, "titleFontSize": 20, "titlePadding": 10},
    "title": {"fontSize": 19, "fontWeight": "normal", "color": "#000000", "offset": 3, "font": "Liberation Sans"}
  }
}
